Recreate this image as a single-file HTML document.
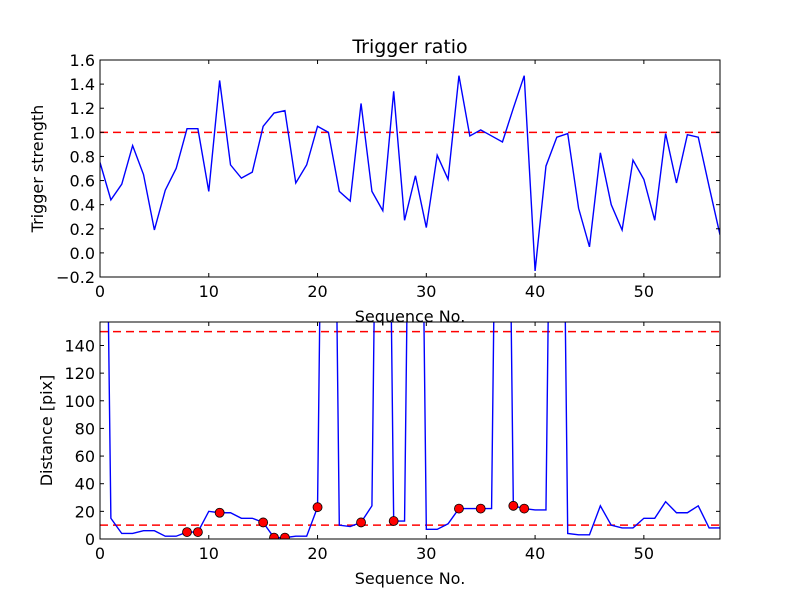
<!DOCTYPE html>
<html><head><meta charset="utf-8"><style>
body{margin:0;background:#fff}
svg text{font-family:"DejaVu Sans","Liberation Sans",sans-serif;fill:#000}
</style></head><body>
<svg id="c" width="800" height="600" xmlns="http://www.w3.org/2000/svg"></svg>
<script>
const topValues=[0.75,0.44,0.57,0.89,0.65,0.19,0.52,0.70,1.03,1.03,0.51,1.43,0.73,0.62,0.67,1.05,1.16,1.18,0.58,0.73,1.05,1.00,0.51,0.43,1.24,0.51,0.35,1.34,0.27,0.64,0.21,0.81,0.61,1.47,0.97,1.02,0.97,0.92,1.20,1.47,-0.15,0.72,0.96,0.99,0.37,0.05,0.83,0.40,0.19,0.77,0.61,0.27,0.99,0.58,0.98,0.96,0.55,0.15];
const distValues=[650,15,4,4,6,6,2,2,5,5,20,19,19,15,15,12,1,1,2,2,23,700,10,9,12,24,700,13,13,700,7,7,11,22,22,22,22,700,24,22,21,21,700,4,3,3,24,10,8,8,15,15,27,19,19,24,8,8];
const markerIdx=[8,9,11,15,16,17,20,24,27,33,35,38,39];
const topTicks=[-0.2,0.0,0.2,0.4,0.6,0.8,1.0,1.2,1.4,1.6];
const topTickLabels=["\u22120.2","0.0","0.2","0.4","0.6","0.8","1.0","1.2","1.4","1.6"];
const botTicks=[0,20,40,60,80,100,120,140];
const xTicks=[0,10,20,30,40,50];
const topThreshold=[1.0];
const botThresholds=[10,150];

const svg=document.getElementById('c');
const NS='http://www.w3.org/2000/svg';
function mk(t,a,p){const e=document.createElementNS(NS,t);for(const k in a)e.setAttribute(k,a[k]);(p||svg).appendChild(e);return e;}
const L=100,R=720;
const xs=v=>L+(v/57)*(R-L);
function panel(T,B,ymin,ymax,name){
  const ys=v=>B-(v-ymin)/(ymax-ymin)*(B-T);
  const g=mk('g',{});
  
  
  const cid=name+'-clip';
  const cp=mk('clipPath',{id:cid},g);mk('rect',{x:L,y:T,width:R-L,height:B-T},cp);
  return {ys,g,cid};
}
function axes(p,T,B,ticks,labels,xlabel,ylabel,name){
  const g=p.g;
  const fr=mk('rect',{x:L,y:T,width:R-L,height:B-T,fill:'none',stroke:'#000','stroke-width':1},g);
  
  ticks.forEach((t,i)=>{const y=p.ys(t);
    mk('line',{x1:L,x2:L+4,y1:y,y2:y,stroke:'#000'},g);mk('line',{x1:R-4,x2:R,y1:y,y2:y,stroke:'#000'},g);
    const tx=mk('text',{x:L-5,y:y+6,'text-anchor':'end','font-size':16},g);tx.textContent=labels[i];
    });
  xTicks.forEach(t=>{const x=xs(t);
    mk('line',{x1:x,x2:x,y1:B,y2:B-4,stroke:'#000'},g);mk('line',{x1:x,x2:x,y1:T,y2:T+4,stroke:'#000'},g);
    const tx=mk('text',{x:x,y:B+20,'text-anchor':'middle','font-size':16},g);tx.textContent=t;
    });
  const xl=mk('text',{x:(L+R)/2,y:B+45,'text-anchor':'middle','font-size':16},g);xl.textContent=xlabel;
  
  const cy=(T+B)/2;
  const yl=mk('text',{x:0,y:0,'text-anchor':'middle','font-size':16,transform:`translate(${name==='top'?43:52},${cy}) rotate(-90)`},g);yl.textContent=ylabel;
  
}
// top
const tp=panel(60,277,-0.2,1.6,'top');
topThreshold.forEach(v=>{const l=mk('line',{x1:L,x2:R,y1:tp.ys(v),y2:tp.ys(v),stroke:'red','stroke-dasharray':'8,5','stroke-width':1.5},tp.g);
  });
const tl=mk('polyline',{points:topValues.map((v,i)=>xs(i)+','+tp.ys(v)).join(' '),fill:'none',stroke:'blue','stroke-width':1.4,'clip-path':`url(#${tp.cid})`},tp.g);

axes(tp,60,277,topTicks,topTickLabels,'Sequence No.','Trigger strength','top');
const ti=mk('text',{x:410,y:53,'text-anchor':'middle','font-size':19});ti.textContent='Trigger ratio';

// bottom
const bp=panel(322,539,0,157,'bottom');
botThresholds.forEach(v=>{const l=mk('line',{x1:L,x2:R,y1:bp.ys(v),y2:bp.ys(v),stroke:'red','stroke-dasharray':'8,5','stroke-width':1.5},bp.g);
  });
const bl=mk('polyline',{points:distValues.map((v,i)=>xs(i)+','+bp.ys(v)).join(' '),fill:'none',stroke:'blue','stroke-width':1.4,'clip-path':`url(#${bp.cid})`},bp.g);

markerIdx.forEach(i=>{const c=mk('circle',{cx:xs(i),cy:bp.ys(distValues[i]),r:4.5,fill:'red',stroke:'#000','stroke-width':0.8,'clip-path':`url(#${bp.cid})`},bp.g);
  });
axes(bp,322,539,botTicks,botTicks.map(String),'Sequence No.','Distance [pix]','bottom');
</script>
</body></html>
